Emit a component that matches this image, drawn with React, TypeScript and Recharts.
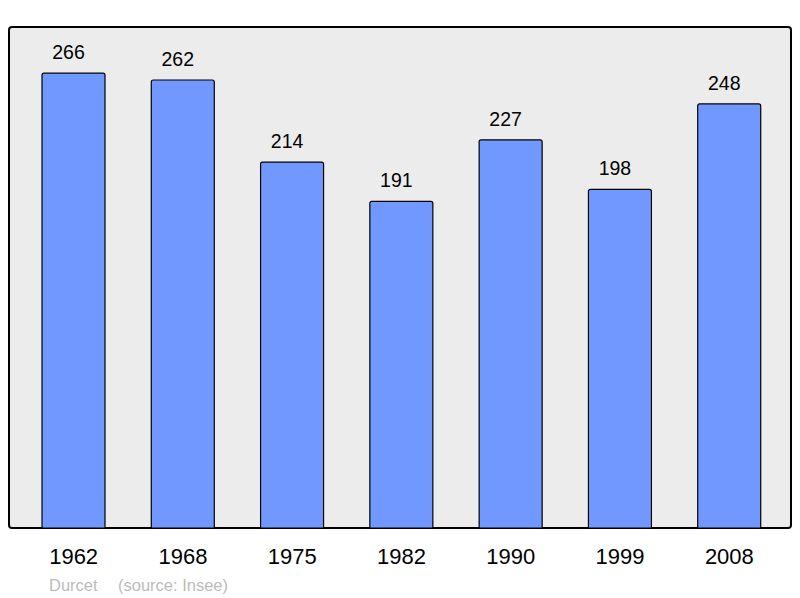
import React from 'react';
import { BarChart, Bar, XAxis, YAxis, LabelList } from 'recharts';

const years = ['1962', '1968', '1975', '1982', '1990', '1999', '2008'];
const population = [266, 262, 214, 191, 227, 198, 248];
const yDomain = [0, 293];

const data = years.map((year, i) => ({ year, population: population[i] }));

const font = '"Liberation Sans", Arial, sans-serif';

export default function App() {
  return (
    <div style={{ position: 'absolute', left: 0, top: 0, width: 800, height: 598, background: '#fff', fontFamily: font }}>
      {/* frame behind the plot */}
      <div
        style={{
          position: 'absolute',
          left: 8,
          top: 26,
          width: 784,
          height: 503,
          boxSizing: 'border-box',
          border: '2px solid #000',
          borderRadius: 4,
          background: '#ececec',
        }}
      />
      <div style={{ position: 'absolute', left: 0, top: 0 }}>
        <BarChart width={800} height={598} data={data} margin={{ top: 27, right: 8, bottom: 0, left: 9 }}>
          <XAxis
            dataKey="year"
            height={70}
            axisLine={false}
            tickLine={false}
            tickSize={6}
            tickMargin={14}
            padding={{ left: 10, right: 8 }}
            tick={{ fill: '#000', fontSize: 22, fontFamily: font }}
          />
          <YAxis hide domain={yDomain} />
          <Bar
            dataKey="population"
            barSize={63}
            fill="#7098ff"
            stroke="#000"
            strokeWidth={1.2}
            radius={[2, 2, 0, 0]}
            isAnimationActive={false}
          >
            <LabelList
              dataKey="population"
              position="top"
              offset={14}
              dx={-5}
              fill="#000"
              fontSize={19.5}
              fontFamily={font}
            />
          </Bar>
        </BarChart>
      </div>
      <div style={{ position: 'absolute', left: 49, top: 575, fontSize: 16.5, lineHeight: '20px', color: '#bbbbbb' }}>
        Durcet
      </div>
      <div style={{ position: 'absolute', left: 118, top: 575, fontSize: 16.5, lineHeight: '20px', color: '#bbbbbb' }}>
        (source: Insee)
      </div>
    </div>
  );
}
